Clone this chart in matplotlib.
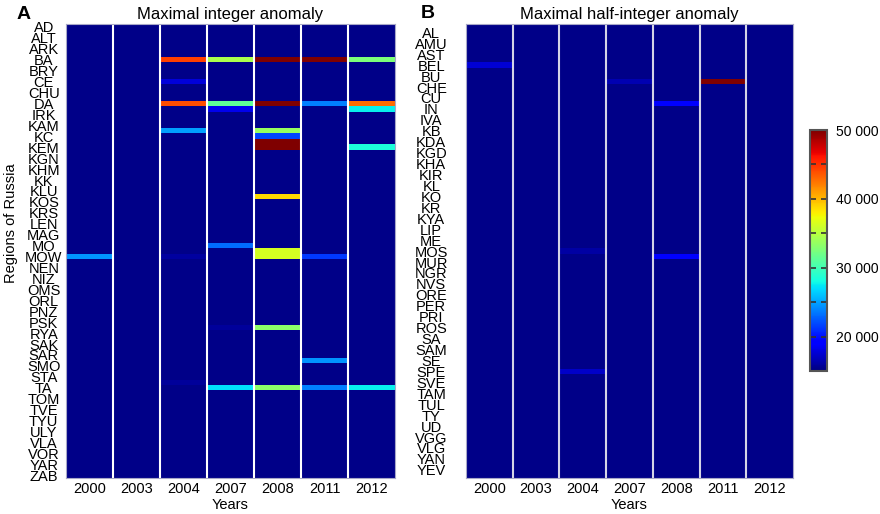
import numpy as np
import matplotlib
matplotlib.use('Agg')
import matplotlib.pyplot as plt
from matplotlib.ticker import FuncFormatter, FixedLocator

plt.rcParams['font.family'] = ['Liberation Sans', 'DejaVu Sans']

###############################################################################
# Data

years = ['2000', '2003', '2004', '2007', '2008', '2011', '2012']

regions = ['AD', 'AL', 'ALT', 'AMU', 'ARK', 'AST', 'BA', 'BEL', 'BRY', 'BU',
           'CE', 'CHE', 'CHU', 'CU', 'DA', 'IN', 'IRK', 'IVA', 'KAM', 'KB',
           'KC', 'KDA', 'KEM', 'KGD', 'KGN', 'KHA', 'KHM', 'KIR', 'KK', 'KL',
           'KLU', 'KO', 'KOS', 'KR', 'KRS', 'KYA', 'LEN', 'LIP', 'MAG', 'ME',
           'MO', 'MOS', 'MOW', 'MUR', 'NEN', 'NGR', 'NIZ', 'NVS', 'OMS', 'ORE',
           'ORL', 'PER', 'PNZ', 'PRI', 'PSK', 'ROS', 'RYA', 'SA', 'SAK', 'SAM',
           'SAR', 'SE', 'SMO', 'SPE', 'STA', 'SVE', 'TA', 'TAM', 'TOM', 'TUL',
           'TVE', 'TY', 'TYU', 'UD', 'ULY', 'VGG', 'VLA', 'VLG', 'VOR', 'YAN',
           'YAR', 'YEV', 'ZAB']

# Value shown for every cell without an anomaly
base_value = 15400

# Maximal integer anomaly: (region, year, value)
integer_cells = [
    ('BA', '2004', 44500), ('BA', '2007', 34500), ('BA', '2008', 50000),
    ('BA', '2011', 50000), ('BA', '2012', 32600),
    ('CE', '2004', 17800),
    ('DA', '2004', 43900), ('DA', '2007', 31300), ('DA', '2008', 50000),
    ('DA', '2011', 23750), ('DA', '2012', 42800),
    ('IN', '2007', 18400), ('IN', '2012', 27600),
    ('KB', '2004', 24900), ('KB', '2008', 33600),
    ('KC', '2008', 21800),
    ('KDA', '2008', 50000),
    ('KEM', '2008', 50000), ('KEM', '2012', 28500),
    ('KO', '2008', 38700),
    ('MO', '2007', 23100),
    ('MOS', '2008', 36200),
    ('MOW', '2000', 24500), ('MOW', '2004', 16000), ('MOW', '2008', 36200),
    ('MOW', '2011', 21400),
    ('ROS', '2007', 15900), ('ROS', '2008', 33200),
    ('SE', '2011', 24500),
    ('SVE', '2004', 15900),
    ('TA', '2007', 27100), ('TA', '2008', 33200), ('TA', '2011', 23750),
    ('TA', '2012', 27600),
]

# Maximal half-integer anomaly: (region, year, value)
half_integer_cells = [
    ('BEL', '2000', 17700),
    ('CE', '2007', 16600), ('CE', '2011', 50000),
    ('DA', '2008', 19200),
    ('MOS', '2004', 16200),
    ('MOW', '2008', 19200),
    ('SPE', '2004', 17300),
]

vmin, vmax = 15000, 50000

###############################################################################
# Helper functions

def build_matrix(cells):
    mat = np.full((len(regions), len(years)), float(base_value))
    for reg, yr, val in cells:
        mat[regions.index(reg), years.index(yr)] = val
    return mat

def draw_panel(ax, mat, label_start, sep_color, pad):
    im = ax.imshow(mat, cmap='jet', vmin=vmin, vmax=vmax, aspect='auto',
                   interpolation='nearest')
    # Column separators
    for i in range(len(years) - 1):
        ax.axvline(i + 0.5, color=sep_color, lw=1.5)
    ax.set_xticks(range(len(years)))
    ax.set_xticklabels(years, fontsize=10.5)
    idx = list(range(label_start, len(regions), 2))
    ax.set_yticks(idx)
    ax.set_yticklabels([regions[i] for i in idx], fontsize=10.5)
    for t in ax.get_yticklabels():
        t.set_ha('center')
    ax.tick_params(axis='y', length=0, pad=pad)
    ax.tick_params(axis='x', length=0, pad=3)
    ax.set_xlabel('Years', fontsize=10.5, labelpad=1)
    for sp in ax.spines.values():
        sp.set_color('#a8a8c8')
        sp.set_linewidth(0.8)
    return im

###############################################################################

fig = plt.figure(figsize=(8.8, 5.14), dpi=100)
ax_l = fig.add_axes([0.075, 0.070, 0.374, 0.883])
ax_r = fig.add_axes([0.5295, 0.070, 0.3716, 0.883])
cax = fig.add_axes([0.921, 0.278, 0.019, 0.469])

draw_panel(ax_l, build_matrix(integer_cells), 0, 'white', 16)
im = draw_panel(ax_r, build_matrix(half_integer_cells), 1, '#d4d4e6', 25)

ax_l.set_title('Maximal integer anomaly', fontsize=12, pad=4)
ax_r.set_title('Maximal half-integer anomaly', fontsize=12, pad=4)
fig.text(0.012, 0.565, 'Regions of Russia', fontsize=10.5, rotation=90,
         ha='center', va='center')

fig.text(0.019, 0.972, 'A', fontsize=14, fontweight='bold', va='center')
fig.text(0.478, 0.974, 'B', fontsize=14, fontweight='bold', va='center')

# Colorbar
cb = fig.colorbar(im, cax=cax)
cb.set_ticks([20000, 30000, 40000, 50000])
cb.ax.yaxis.set_major_formatter(
    FuncFormatter(lambda x, pos: '{:,}'.format(int(x)).replace(',', ' ')))
cb.ax.yaxis.set_minor_locator(FixedLocator([25000, 35000, 45000]))
cb.ax.tick_params(which='both', direction='in', left=True, right=True,
                  length=4, width=1.2, color='#333333', labelsize=10, pad=6)
cb.outline.set_edgecolor('#555555')
cb.outline.set_linewidth(1.5)

fig.savefig('out.png', dpi=100)
plt.close(fig)
